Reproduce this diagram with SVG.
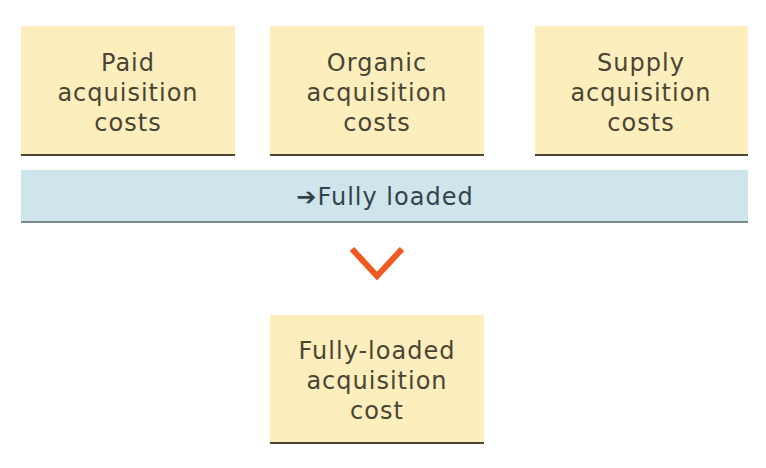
<svg xmlns="http://www.w3.org/2000/svg" width="766" height="468" viewBox="0 0 766 468">
<style>
.box{fill:#fcefbd}
.rule{stroke:#4d4438;stroke-width:2}
.t{font-family:"DejaVu Sans","Liberation Sans",sans-serif;font-size:24px;letter-spacing:1px;fill:#4a4434;text-anchor:middle}
.bt{font-family:"DejaVu Sans","Liberation Sans",sans-serif;font-size:24px;letter-spacing:1px;fill:#34434a;text-anchor:middle}
</style>
<rect width="766" height="468" fill="#ffffff"/>
<g id="paid">
<rect class="box" x="21" y="26" width="214" height="129"/>
<line class="rule" x1="21" y1="155" x2="235" y2="155"/>
<text class="t" x="128" y="71">Paid</text>
<text class="t" x="128" y="101">acquisition</text>
<text class="t" x="128" y="131">costs</text>
</g>
<g id="organic">
<rect class="box" x="270" y="26" width="214" height="129"/>
<line class="rule" x1="270" y1="155" x2="484" y2="155"/>
<text class="t" x="377" y="71">Organic</text>
<text class="t" x="377" y="101">acquisition</text>
<text class="t" x="377" y="131">costs</text>
</g>
<g id="supply">
<rect class="box" x="535" y="26" width="213" height="129"/>
<line class="rule" x1="535" y1="155" x2="748" y2="155"/>
<text class="t" x="641" y="71">Supply</text>
<text class="t" x="641" y="101">acquisition</text>
<text class="t" x="641" y="131">costs</text>
</g>
<g id="fully-loaded-bar">
<rect x="21" y="170" width="727" height="52" fill="#cfe5ec"/>
<line x1="21" y1="222" x2="748" y2="222" stroke="#55636a" stroke-width="1.5"/>
<text class="bt" x="385" y="205">➔Fully loaded</text>
</g>
<g id="connectors">
<polyline points="352,249 377,276 402,249" fill="none" stroke="#f05a22" stroke-width="6"/>
</g>
<g id="result">
<rect class="box" x="270" y="315" width="214" height="128"/>
<line class="rule" x1="270" y1="443" x2="484" y2="443"/>
<text class="t" x="377" y="359">Fully-loaded</text>
<text class="t" x="377" y="389">acquisition</text>
<text class="t" x="377" y="419">cost</text>
</g>
</svg>
